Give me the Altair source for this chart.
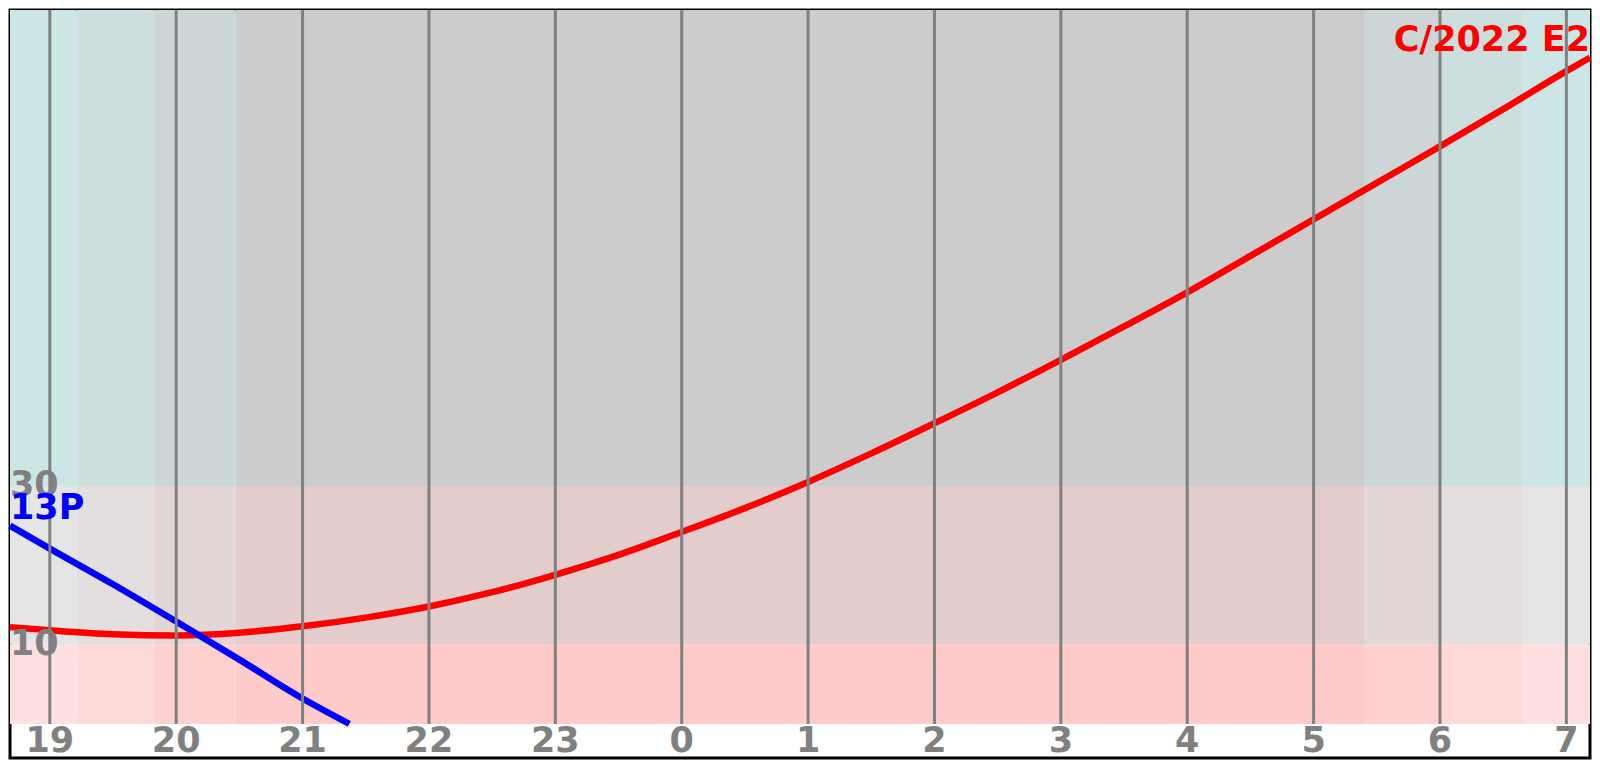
import altair as alt
import pandas as pd

# ---------------- data ----------------
# hours after midnight of the first day (24 = 0h, 31 = 7h)
red_hours = [18.685, 19.0, 19.5, 20.0, 20.5, 21.0, 21.5, 22.0, 22.5, 23.0, 23.5, 24.0,
             24.5, 25.0, 25.5, 26.0, 26.5, 27.0, 27.5, 28.0, 28.5, 29.0, 29.5, 30.0,
             30.5, 31.0, 31.187]
red_alt = [12.2, 11.8, 11.3, 11.15, 11.5, 12.3, 13.4, 14.8, 16.6, 18.8, 21.3, 24.2,
           27.2, 30.5, 34.1, 37.9, 41.8, 45.9, 50.1, 54.4, 59.0, 63.6, 68.2, 72.8,
           77.5, 82.3, 84.0]

blue_hours = [18.685, 19.0, 19.5, 20.0, 20.5, 21.0, 21.37]
blue_alt = [25.0, 22.1, 17.6, 12.9, 8.1, 3.2, 0.0]

comet_names = ["C/2022 E2", "13P"]
comet_colors = ["#ff0000", "#0000ff"]

tick_hours = [19, 20, 21, 22, 23, 24, 25, 26, 27, 28, 29, 30, 31]
tick_labels = ["19", "20", "21", "22", "23", "0", "1", "2", "3", "4", "5", "6", "7"]

alt_label_values = [30, 10]

# twilight segments (hour boundaries) and their level: 0 civil, 1 nautical, 2 astro, 3 night
twilight_edges = [18.685, 19.21, 19.826, 20.469, 29.399, 30.015, 30.658, 31.187]
twilight_levels = [0, 1, 2, 3, 2, 1, 0]

# altitude bands
alt_edges = [0, 10, 30, 90]
band_palette = [
    ["#ffe0e0", "#ffd8d8", "#ffd0d0", "#fecaca"],  # 0-10
    ["#e5e5e5", "#e4dede", "#e3d6d6", "#e2cccc"],  # 10-30
    ["#cce6e6", "#ccdede", "#ccd6d6", "#cccccc"],  # 30-90
]

X_MIN, X_MAX = 18.685, 31.187
Y_MIN, Y_MAX = -4.3, 90

# ---------------- tables ----------------
cells = []
for i in range(len(alt_edges) - 1):
    for j in range(len(twilight_levels)):
        cells.append({
            "x0": twilight_edges[j], "x1": twilight_edges[j + 1],
            "y0": alt_edges[i], "y1": alt_edges[i + 1],
            "key": f"{i}-{j}",
            "col": band_palette[i][twilight_levels[j]],
        })
cells_df = pd.DataFrame(cells)

red_df = pd.DataFrame({"hour": red_hours, "alt": red_alt})
blue_df = pd.DataFrame({"hour": blue_hours, "alt": blue_alt})

ticks_df = pd.DataFrame({"hour": tick_hours, "label": tick_labels,
                         "y0": [0] * len(tick_hours), "y1": [90] * len(tick_hours),
                         "ly": [-2.15] * len(tick_hours)})
ylab_df = pd.DataFrame({"hour": [X_MIN] * len(alt_label_values), "alt": alt_label_values,
                        "label": [str(v) for v in alt_label_values]})
red_lab_df = pd.DataFrame({"hour": [red_hours[-1]], "alt": [red_alt[-1]], "label": [comet_names[0]]})
blue_lab_df = pd.DataFrame({"hour": [blue_hours[0]], "alt": [blue_alt[0]], "label": [comet_names[1]]})

xs = alt.Scale(domain=[X_MIN, X_MAX], nice=False, zero=False)
ys = alt.Scale(domain=[Y_MIN, Y_MAX], nice=False, zero=False)

FONT = "DejaVu Sans"
FS = 35

bands = alt.Chart(cells_df).mark_rect(strokeWidth=0).encode(
    x=alt.X("x0:Q", scale=xs, axis=None),
    x2="x1:Q",
    y=alt.Y("y0:Q", scale=ys, axis=None),
    y2="y1:Q",
    color=alt.Color("key:N", scale=alt.Scale(domain=list(cells_df["key"]), range=list(cells_df["col"])), legend=None),
)


def curve(df, colr):
    return alt.Chart(df).mark_line(strokeWidth=6.5, interpolate="monotone", color=colr).encode(
        x=alt.X("hour:Q", scale=xs, axis=None),
        y=alt.Y("alt:Q", scale=ys, axis=None),
        order="hour:Q",
    )


red_curve = curve(red_df, comet_colors[0])
blue_curve = curve(blue_df, comet_colors[1])

grid = alt.Chart(ticks_df).mark_rule(color="#808080", strokeWidth=3).encode(
    x=alt.X("hour:Q", scale=xs, axis=None),
    y=alt.Y("y0:Q", scale=ys, axis=None),
    y2="y1:Q",
)

xlabels = alt.Chart(ticks_df).mark_text(
    font=FONT, fontSize=FS, fontWeight="bold", color="#808080",
    align="center", baseline="alphabetic", dy=11,
).encode(
    x=alt.X("hour:Q", scale=xs, axis=None),
    y=alt.Y("ly:Q", scale=ys, axis=None),
    text="label:N",
)

ylabels = alt.Chart(ylab_df).mark_text(
    font=FONT, fontSize=FS, fontWeight="bold", color="#808080",
    align="left", baseline="alphabetic", dy=10,
).encode(
    x=alt.X("hour:Q", scale=xs, axis=None),
    y=alt.Y("alt:Q", scale=ys, axis=None),
    text="label:N",
)

red_label = alt.Chart(red_lab_df).mark_text(
    font=FONT, fontSize=FS, fontWeight="bold", color=comet_colors[0],
    align="right", baseline="alphabetic", dy=-7,
).encode(
    x=alt.X("hour:Q", scale=xs, axis=None),
    y=alt.Y("alt:Q", scale=ys, axis=None),
    text="label:N",
)

blue_label = alt.Chart(blue_lab_df).mark_text(
    font=FONT, fontSize=FS, fontWeight="bold", color=comet_colors[1],
    align="left", baseline="alphabetic", dy=-7,
).encode(
    x=alt.X("hour:Q", scale=xs, axis=None),
    y=alt.Y("alt:Q", scale=ys, axis=None),
    text="label:N",
)

chart = alt.layer(bands, red_curve, blue_curve, grid, xlabels, ylabels, red_label, blue_label).properties(
    width=1580, height=748,
    padding={"left": 2, "top": 2, "right": 2, "bottom": 2},
    autosize=alt.AutoSizeParams(type="none"),
    background="white",
).configure_view(stroke="black", strokeWidth=3)

chart.save("out.html", embed_options={"renderer": "svg", "actions": False})
